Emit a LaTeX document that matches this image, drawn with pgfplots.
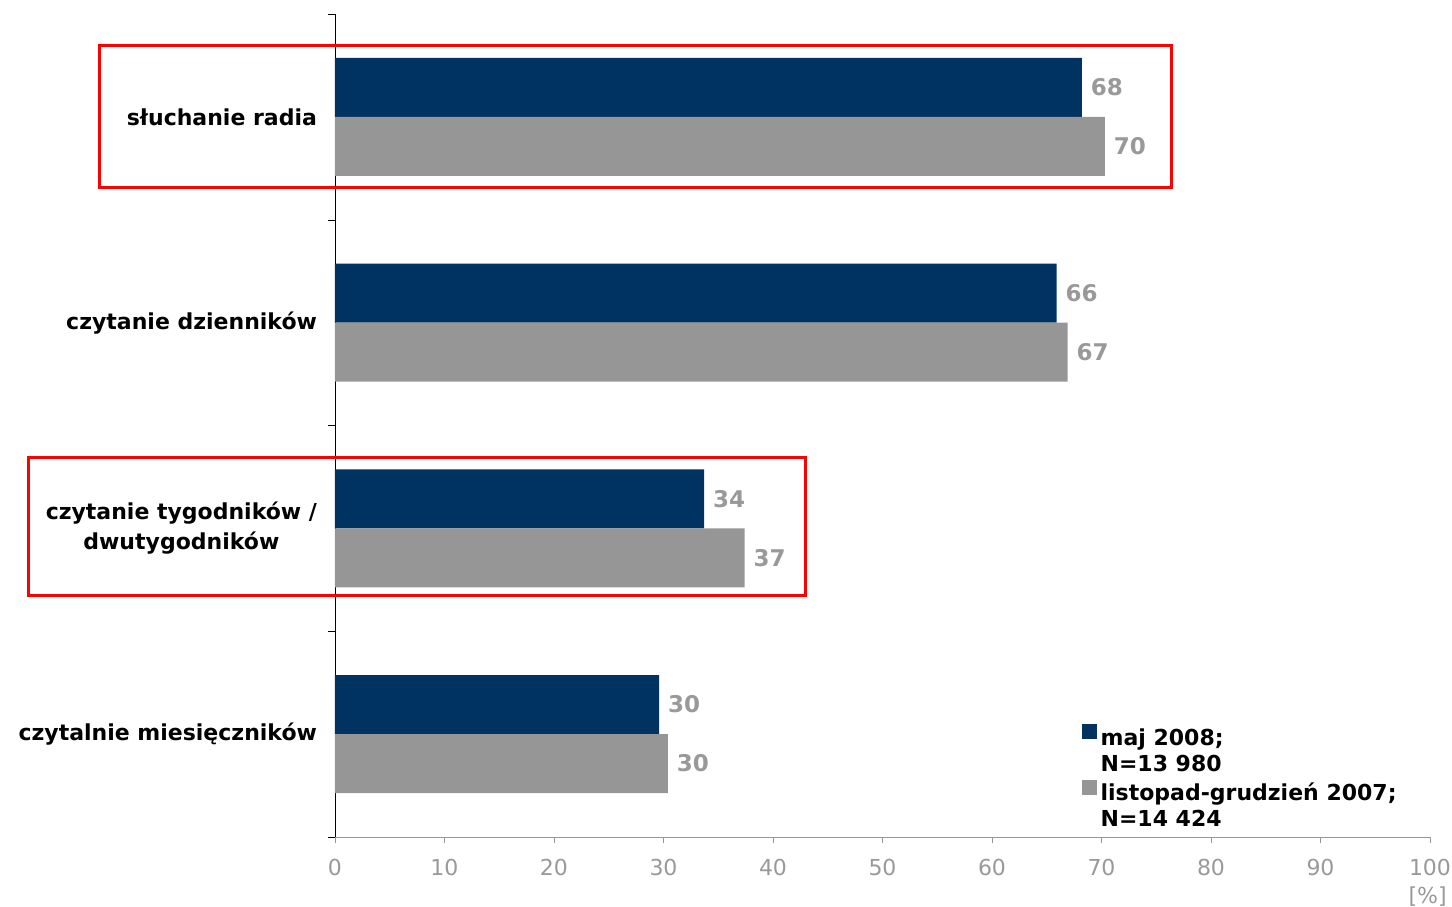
\documentclass[border=0pt]{standalone}
\usepackage{pgfplots}
\pgfplotsset{compat=1.18}
\usepackage{fontspec}
\setmainfont{DejaVu Sans}
\definecolor{navy}{RGB}{0,50,98}
\definecolor{bargray}{RGB}{150,150,150}
\definecolor{txtgray}{RGB}{153,153,153}
\begin{document}
\begin{tikzpicture}
\begin{axis}[
  scale only axis,
  width=547.5pt, height=411.5pt,
  xbar, bar width=29.5pt,
  xmin=0, xmax=100, ymin=-0.5, ymax=3.5,
  axis x line*=bottom, axis y line*=left,
  x axis line style={draw=bargray, -},
  y axis line style={draw=black, -},
  xtick={0,10,...,100},
  tick align=outside,
  major tick length=3pt,
  minor tick length=3.5pt,
  x tick style={draw=bargray},
  ytick={0,1,2,3},
  yticklabels={czytalnie miesięczników, {czytanie tygodników /\\dwutygodników}, czytanie dzienników, słuchanie radia},
  major y tick style={draw=none},
  minor ytick={-0.5,0.5,1.5,2.5,3.5},
  minor y tick style={draw=black},
  /pgf/number format/assume math mode=true,
  xticklabel style={text=txtgray, font=\fontsize{11}{13}\selectfont, inner sep=0pt, yshift=-8pt},
  yticklabel style={font=\bfseries\fontsize{11}{15}\selectfont, align=center, text=black, xshift=-2.5pt},
  xlabel={[\%]},
  xlabel style={at={(rel axis cs:1,0)}, anchor=east, inner sep=0pt, xshift=8.5pt, yshift=-30pt, text=txtgray, font=\fontsize{11}{13}\selectfont},
  point meta=x,
  nodes near coords={\pgfmathprintnumber[fixed,precision=0]{\pgfplotspointmeta}},
  every node near coord/.append style={anchor=west, text=txtgray, font=\bfseries\fontsize{11.5}{13}\selectfont, xshift=1pt},
  clip=false,
  legend style={at={(rel axis cs:0.676,0.144)}, anchor=north west, draw=none, fill=none,
    font=\bfseries\fontsize{11}{13}\selectfont, row sep=13pt},
  legend cell align=left,
  legend image code/.code={\fill[#1] (0pt,-1pt) rectangle (7.5pt,6.5pt);},
]
\addplot[fill=navy, draw=none, bar shift=14.75pt] coordinates {(29.6,0) (33.7,1) (65.9,2) (68.2,3)};
\addlegendentry{\begin{tabular}[t]{@{}l@{}}maj 2008;\\N=13 980\end{tabular}}
\addplot[fill=bargray, draw=none, bar shift=-14.75pt] coordinates {(30.4,0) (37.4,1) (66.9,2) (70.3,3)};
\addlegendentry{\begin{tabular}[t]{@{}l@{}}listopad-grudzień 2007;\\N=14 424\end{tabular}}
\draw[red, line width=1.5pt] (axis cs:-21.55,3.349) rectangle (axis cs:76.4,2.659);
\draw[red, line width=1.5pt] (axis cs:-27.95,1.342) rectangle (axis cs:43.0,0.676);
\path (rel axis cs:0,0) ++(-167.5pt,-35pt) rectangle ([xshift=11pt,yshift=7pt]rel axis cs:1,1);
\end{axis}
\end{tikzpicture}
\end{document}
